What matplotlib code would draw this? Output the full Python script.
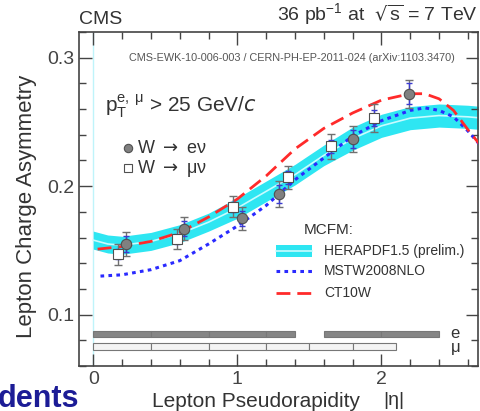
import numpy as np
import matplotlib
matplotlib.use("Agg")
import matplotlib.pyplot as plt

plt.rcParams['font.family'] = ['Liberation Sans', 'DejaVu Sans']

# measured asymmetry, W -> e nu
e_eta = [0.23, 0.63, 1.03, 1.29, 1.80, 2.19]
e_asym = [0.155, 0.167, 0.175, 0.194, 0.237, 0.272]
e_tot = [0.009, 0.009, 0.009, 0.010, 0.010, 0.011]
e_stat = [0.006, 0.006, 0.006, 0.007, 0.007, 0.008]

# measured asymmetry, W -> mu nu
mu_eta = [0.17, 0.58, 0.97, 1.35, 1.65, 1.95]
mu_asym = [0.147, 0.159, 0.184, 0.207, 0.231, 0.253]
mu_tot = [0.008, 0.008, 0.008, 0.009, 0.010, 0.011]
mu_stat = [0.004, 0.004, 0.004, 0.005, 0.005, 0.006]

# MCFM predictions
hera_eta = [0.0, 0.1, 0.2, 0.4, 0.6, 0.8, 1.0, 1.2, 1.4, 1.6, 1.8, 2.0, 2.2, 2.4, 2.6, 2.7]
hera_mid = [0.158, 0.155, 0.154, 0.157, 0.163, 0.172, 0.183, 0.196, 0.209, 0.224, 0.237, 0.247, 0.253, 0.255, 0.254, 0.253]
hera_err = [0.007, 0.007, 0.007, 0.007, 0.007, 0.007, 0.008, 0.008, 0.008, 0.008, 0.009, 0.009, 0.009, 0.009, 0.009, 0.009]

mstw_eta = [0.05, 0.2, 0.4, 0.6, 0.8, 1.0, 1.2, 1.4, 1.6, 1.8, 2.0, 2.2, 2.3, 2.4, 2.5, 2.6, 2.7]
mstw_asym = [0.130, 0.131, 0.135, 0.142, 0.155, 0.169, 0.185, 0.205, 0.222, 0.239, 0.251, 0.259, 0.261, 0.259, 0.254, 0.243, 0.230]

ct10_eta = [0.03, 0.2, 0.4, 0.6, 0.8, 1.0, 1.2, 1.4, 1.6, 1.8, 2.0, 2.2, 2.3, 2.4, 2.5, 2.6, 2.7]
ct10_asym = [0.151, 0.153, 0.157, 0.164, 0.176, 0.190, 0.208, 0.229, 0.245, 0.257, 0.267, 0.272, 0.272, 0.268, 0.259, 0.244, 0.230]

# eta binning of the two channels
e_bins = [[0.0, 0.4, 0.8, 1.2, 1.4], [1.6, 2.0, 2.4]]
mu_bins = [[0.0, 0.4, 0.8, 1.2, 1.5, 1.8, 2.1]]

fig = plt.figure(figsize=(4.81, 4.11), dpi=100)
ax = fig.add_axes([0.164, 0.1095, 0.8298, 0.8125])

hera_lo = np.array(hera_mid) - np.array(hera_err)
hera_hi = np.array(hera_mid) + np.array(hera_err)
ax.fill_between(hera_eta, hera_lo, hera_hi, color='#2ee6f2', lw=0, zorder=1)
ax.plot(hera_eta, hera_mid, color='#c8fbff', lw=1.2, zorder=2)
ax.axvline(0, color='#bff4fa', lw=1, zorder=0)
ax.plot(mstw_eta, mstw_asym, color='#2a2aff', lw=2.2, ls=(0, (1.2, 1.4)), zorder=3)
ax.plot(ct10_eta, ct10_asym, color='#ff2a2a', lw=2.0, ls=(0, (5, 2.5)), zorder=3)

# data: total (grey) and stat (blue) error bars
ax.errorbar(e_eta, e_asym, yerr=e_tot, fmt='none', ecolor='#707070', elinewidth=1, capsize=3, zorder=4)
ax.errorbar(e_eta, e_asym, yerr=e_stat, fmt='none', ecolor='#3b3bd0', elinewidth=1, capsize=2, zorder=4)
ax.errorbar(mu_eta, mu_asym, yerr=mu_tot, fmt='none', ecolor='#707070', elinewidth=1, capsize=3, zorder=4)
ax.errorbar(mu_eta, mu_asym, yerr=mu_stat, fmt='none', ecolor='#3b3bd0', elinewidth=1, capsize=2, zorder=4)
ax.plot(e_eta, e_asym, 'o', ms=7.5, mfc='#808080', mec='#505050', mew=0.8, zorder=5)
ax.plot(mu_eta, mu_asym, 's', ms=6.5, mfc='white', mec='#505050', mew=0.8, zorder=5)

# bin bars at the bottom
for row, y0, fc in [(e_bins, 0.0847, '#858585'), (mu_bins, 0.0752, '#f4f4f4')]:
    for edges in row:
        ax.bar(edges[:-1], 0.005, width=np.diff(edges), bottom=y0 - 0.0025, align='edge',
               color=fc, edgecolor='#777777', linewidth=0.8, zorder=2)
ax.text(2.48, 0.0855, 'e', fontsize=12, color='#333333', va='center', ha='left')
ax.text(2.48, 0.0745, 'μ', fontsize=12, color='#333333', va='center', ha='left')

ax.set_xlim(-0.1, 2.67)
ax.set_ylim(0.06, 0.32)
ax.set_xticks([0, 1, 2])
ax.set_xticklabels(['0', '1', '2'])
ax.set_yticks([0.1, 0.2, 0.3])
ax.set_yticklabels(['0.1', '0.2', '0.3'])
ax.set_xticks(np.arange(0, 2.7, 0.2), minor=True)
ax.set_yticks(np.arange(0.06, 0.33, 0.02), minor=True)
ax.tick_params(which='both', direction='in', top=True, right=True, colors='#444444',
               labelcolor='#444444', labelsize=14)
ax.tick_params(which='major', length=9, width=1)
ax.tick_params(which='minor', length=5, width=1)
for s in ax.spines.values():
    s.set_color('#444444')
    s.set_linewidth(1.2)

ax.set_ylabel('Lepton Charge Asymmetry', fontsize=16, color='#333333')
ax.yaxis.set_label_coords(-0.105, 0.479)
ax.set_xlabel('Lepton Pseudorapidity', fontsize=15, color='#333333')
ax.xaxis.set_label_coords(0.444, -0.078)
ax.text(2.01, -0.102, '|η|', transform=ax.get_xaxis_transform(), fontsize=14, color='#333333',
        va='center')

fig.text(0.164, 0.933, 'CMS', fontsize=14, color='#333333', va='bottom', ha='left')
fig.text(0.994, 0.933, r'36 pb$^{\mathregular{-1}}$ at  $\mathregular{\sqrt{s}}$ = 7 TeV', fontsize=14,
         color='#333333', va='bottom', ha='right')
ax.text(1.38, 0.3, 'CMS-EWK-10-006-003 / CERN-PH-EP-2011-024 (arXiv:1103.3470)', fontsize=7.8,
        color='#555555', ha='center', va='center')
ax.text(0.08, 0.262, r'p$_{\mathregular{T}}^{\mathregular{e,\,\mu}}$ > 25 GeV/$c$', fontsize=15, color='#333333',
        va='center')

# channel legend
ax.plot([0.24], [0.2296], 'o', ms=6, mfc='#808080', mec='#505050', mew=0.8)
ax.plot([0.24], [0.2139], 's', ms=5.5, mfc='white', mec='#505050', mew=0.8)
ax.text(0.3, 0.2296, r'W $\rightarrow$ eν', fontsize=13, color='#333333', va='center')
ax.text(0.3, 0.2139, r'W $\rightarrow$ μν', fontsize=13, color='#333333', va='center')

# MCFM legend
ax.text(1.46, 0.166, 'MCFM:', fontsize=11, color='#333333', va='center')
ax.fill_between([1.27, 1.52], 0.1445, 0.1545, color='#2ee6f2', lw=0)
ax.plot([1.27, 1.52], [0.1495, 0.1495], color='#c8fbff', lw=1.2)
ax.plot([1.27, 1.52], [0.134, 0.134], color='#2a2aff', lw=2.2, ls=(0, (1.2, 1.4)))
ax.plot([1.27, 1.52], [0.117, 0.117], color='#ff2a2a', lw=2.0, ls=(0, (5, 2.5)))
ax.text(1.6, 0.1495, 'HERAPDF1.5 (prelim.)', fontsize=10, color='#333333', va='center')
ax.text(1.6, 0.134, 'MSTW2008NLO', fontsize=10, color='#333333', va='center')
ax.text(1.6, 0.117, 'CT10W', fontsize=10, color='#333333', va='center')

fig.text(-0.004, 0.0097, 'dents', fontsize=22, fontweight='bold', color='#1c1c96', ha='left', va='baseline')

fig.savefig('out.png', dpi=100)
